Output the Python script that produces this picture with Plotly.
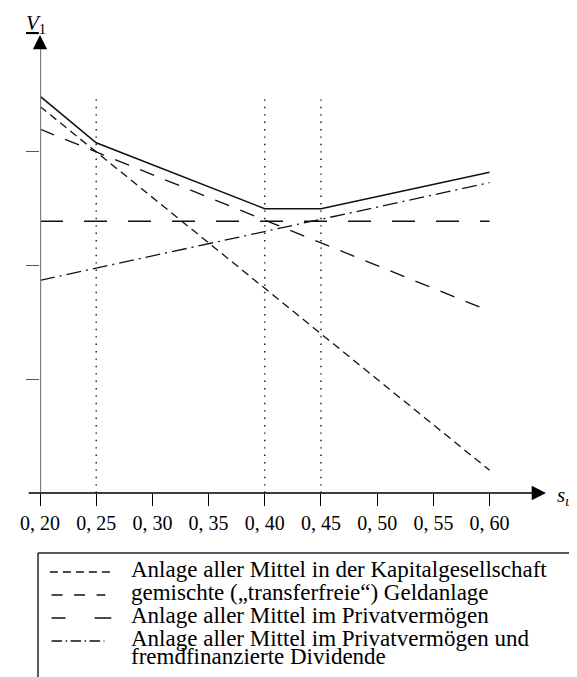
import plotly.graph_objects as go

# ---- data ----
s_u_ticks = [0.20, 0.25, 0.30, 0.35, 0.40, 0.45, 0.50, 0.55, 0.60]
s_u_labels = ["0, 20", "0, 25", "0, 30", "0, 35", "0, 40", "0, 45", "0, 50", "0, 55", "0, 60"]
v_ticks = [1, 2, 3]

x_ends = [0.20, 0.60]
kapital = [3.40, 0.20]      # Anlage aller Mittel in der Kapitalgesellschaft
gemischt = [3.20, 1.60]     # gemischte ("transferfreie") Geldanlage
privat = [2.39, 2.39]       # Anlage aller Mittel im Privatvermoegen
fremd = [1.87, 2.73]        # ... und fremdfinanzierte Dividende

x_env = [0.20, 0.25, 0.40, 0.45, 0.60]
envelope = [3.49, 3.08, 2.50, 2.50, 2.82]

mark_x = [0.25, 0.40, 0.45]
mark_top = 3.47

legend_rows = [
    "Anlage aller Mittel in der Kapitalgesellschaft",
    "gemischte (\u201etransferfreie\u201c) Geldanlage",
    "Anlage aller Mittel im Privatverm\u00f6gen",
    "Anlage aller Mittel im Privatverm\u00f6gen und",
    "fremdfinanzierte Dividende",
]

X_MAX = 0.6502
Y_MAX = 4.028
FONT = "Liberation Serif"
INK = "#111111"

fig = go.Figure()

line_w = 1.3
fig.add_trace(go.Scatter(x=x_env, y=envelope, mode="lines",
                         line=dict(color=INK, width=1.5), showlegend=False))
fig.add_trace(go.Scatter(x=x_ends, y=kapital, mode="lines",
                         line=dict(color=INK, width=line_w, dash="8px,5px"), showlegend=False))
fig.add_trace(go.Scatter(x=x_ends, y=gemischt, mode="lines",
                         line=dict(color=INK, width=line_w, dash="15px,12px"), showlegend=False))
fig.add_trace(go.Scatter(x=x_ends, y=privat, mode="lines",
                         line=dict(color=INK, width=line_w, dash="23px,21px"), showlegend=False))
fig.add_trace(go.Scatter(x=x_ends, y=fremd, mode="lines",
                         line=dict(color=INK, width=line_w, dash="15px,5px,2px,5px"), showlegend=False))
for mx in mark_x:
    fig.add_trace(go.Scatter(x=[mx, mx], y=[0, mark_top], mode="lines",
                             line=dict(color=INK, width=1.4, dash="1.4px,6px"), showlegend=False))

# ---- layout geometry (figure pixels; page body adds an 8px offset) ----
FIG_W, FIG_H = 569, 669
ML, MR, MT, MB = 27, 31, 27, 184
W = FIG_W - ML - MR
H = FIG_H - MT - MB
BASE = FIG_H - MB
OFF = 8  # reference pixel -> figure pixel


def px(xr):
    return (xr - OFF - ML) / W


def py(yr):
    return (BASE - (yr - OFF)) / H


shapes = []
annotations = []

# y axis (gray shaft) + black arrow head
ypu = H / Y_MAX
xpu = W / (X_MAX - 0.20)
shapes.append(dict(type="line", xref="x", yref="y", x0=0.20, x1=0.20,
                   y0=-12 / ypu, y1=Y_MAX - 9 / ypu,
                   line=dict(color="#808080", width=2.4), layer="above"))
annotations.append(dict(x=0.20, y=Y_MAX, ax=0.20, ay=Y_MAX - 12 / ypu,
                        xref="x", yref="y", axref="x", ayref="y", text="",
                        showarrow=True, arrowhead=2, arrowsize=2.2, arrowwidth=1.3,
                        arrowcolor="black"))
# x axis with arrow
annotations.append(dict(x=X_MAX, y=0, ax=0.20 - 13 / xpu, ay=0,
                        xref="x", yref="y", axref="x", ayref="y", text="",
                        showarrow=True, arrowhead=2, arrowsize=2.2, arrowwidth=1.3,
                        arrowcolor="black"))

# axis titles
annotations.append(dict(xref="paper", yref="paper", x=px(19), y=py(9), xanchor="left",
                        yanchor="top", showarrow=False,
                        text="<u><i>V</i></u><sub>1</sub>",
                        font=dict(family=FONT, size=21, color="black")))
annotations.append(dict(xref="paper", yref="paper", x=px(555), y=py(496), xanchor="left",
                        yanchor="middle", showarrow=False,
                        text="<i>s<sub>u</sub></i>",
                        font=dict(family=FONT, size=21, color="black")))

# ---- custom legend ----
shapes.append(dict(type="line", xref="paper", yref="paper", x0=px(33), x1=px(590),
                   y0=py(553), y1=py(553), line=dict(color="#222222", width=1.5)))
shapes.append(dict(type="line", xref="paper", yref="paper", x0=px(33), x1=px(33),
                   y0=py(553), y1=py(690), line=dict(color="#222222", width=1.5)))

baselines = [577, 600, 623, 646, 664]
samples = [
    (45, 108, "8px,5px"),
    (46.7, 101, "11px,11.5px"),
    (46.7, 107, "14px,29px,17px"),
    (46.7, 100, "10.5px,3.5px,1.5px,3.5px"),
]
for i, (x0, x1, d) in enumerate(samples):
    yy = baselines[i] - 5
    shapes.append(dict(type="line", xref="paper", yref="paper", x0=px(x0), x1=px(x1),
                       y0=py(yy), y1=py(yy), line=dict(color=INK, width=1.3, dash=d)))

for i, t in enumerate(legend_rows):
    annotations.append(dict(xref="paper", yref="paper", x=px(125), y=py(baselines[i] - 7.8),
                            xanchor="left", yanchor="middle", showarrow=False, text=t,
                            font=dict(family=FONT, size=23, color="black")))

fig.update_layout(
    width=FIG_W, height=FIG_H, autosize=False,
    margin=dict(l=ML, r=MR, t=MT, b=MB, pad=0),
    paper_bgcolor="white", plot_bgcolor="white",
    showlegend=False,
    shapes=shapes, annotations=annotations,
    xaxis=dict(range=[0.20, X_MAX], showgrid=False, zeroline=False, showline=False,
               ticks="outside", ticklen=12, tickwidth=1.2, tickcolor="black",
               tickvals=s_u_ticks, ticktext=s_u_labels,
               tickfont=dict(family=FONT, size=20, color="black")),
    yaxis=dict(range=[0, Y_MAX], showgrid=False, zeroline=False, showline=False,
               ticks="outside", ticklen=13, tickwidth=1.3, tickcolor="#555555",
               tickvals=v_ticks, showticklabels=False),
)

fig.write_html("out.html")
